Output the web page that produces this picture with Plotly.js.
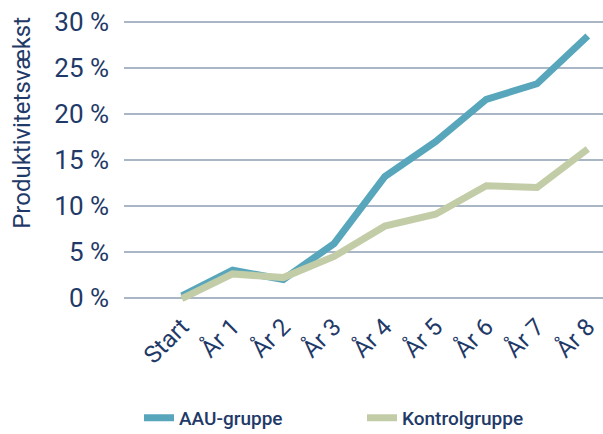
<!DOCTYPE html>
<html>
<head>
<meta charset="utf-8">
<script src="https://cdn.plot.ly/plotly-3.0.1.min.js"></script>
<style>html,body{margin:0;padding:0;background:#fff;}#chart{width:603px;height:434px;}</style>
</head>
<body>
<div id="chart"></div>
<script>
const categories = ["Start", "År 1", "År 2", "År 3", "År 4", "År 5", "År 6", "År 7", "År 8"];
const aauValues = [0.2, 3.0, 2.0, 5.9, 13.2, 17.0, 21.6, 23.3, 28.5];
const kontrolValues = [-0.1, 2.6, 2.2, 4.5, 7.8, 9.1, 12.2, 12.0, 16.2];
const yTicks = [0, 5, 10, 15, 20, 25, 30];
const yTickLabels = ["0 %", "5 %", "10 %", "15 %", "20 %", "25 %", "30 %"];
const seriesNames = ["AAU-gruppe", "Kontrolgruppe"];

const navy = "#1f3a68";
const traces = [
  {x: categories, y: aauValues, name: seriesNames[0], type: "scatter", mode: "lines",
   line: {color: "#58a6bb", width: 7}},
  {x: categories, y: kontrolValues, name: seriesNames[1], type: "scatter", mode: "lines",
   line: {color: "#c2cda8", width: 7}}
];
const layout = {
  width: 603, height: 434,
  margin: {l: 124, r: 0, t: 13, b: 127},
  paper_bgcolor: "#fff", plot_bgcolor: "#fff",
  font: {family: "Roboto, sans-serif", color: navy},
  showlegend: true,
  legend: {orientation: "h", xref: "container", yref: "container", x: 139 / 603, y: 0.081,
           xanchor: "left", yanchor: "top", entrywidth: 178, entrywidthmode: "pixels",
           font: {size: 19, color: navy, weight: 500}},
  xaxis: {type: "category", range: [-1.14, 8.3], tickangle: -45, showgrid: false,
          zeroline: false, showline: false, ticks: "", tickfont: {size: 24, color: navy}},
  yaxis: {range: [-1, 31], tickmode: "array", tickvals: yTicks, ticktext: yTickLabels, showgrid: true,
          gridcolor: "#a9b6c6", gridwidth: 1.5, zeroline: false, showline: false, ticks: "",
          ticklabelstandoff: 14, tickfont: {size: 26, color: navy}},
  annotations: [{text: "Produktivitetsvækst", xref: "paper", yref: "paper", textangle: -90,
    x: (22 - 124) / 479, y: 1 - (123 - 13) / 294.4, xanchor: "center", yanchor: "middle",
    showarrow: false, font: {size: 24, color: navy}}]
};
Plotly.newPlot("chart", traces, layout, {displayModeBar: false, staticPlot: true});
</script>
</body>
</html>
